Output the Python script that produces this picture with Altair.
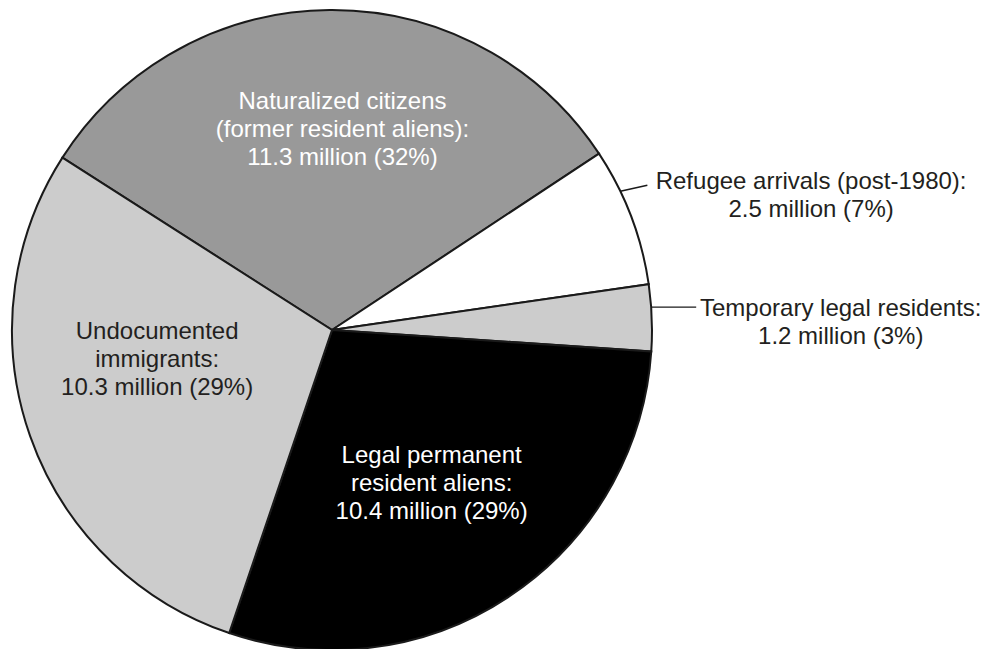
import math
import altair as alt
import pandas as pd

# ---- data ----
categories = ["Naturalized citizens", "Refugee arrivals", "Temporary legal residents",
              "Legal permanent resident aliens", "Undocumented immigrants"]
values = [11.3, 2.5, 1.2, 10.4, 10.3]          # millions
percents = [32, 7, 3, 29, 29]
name_lines = ["Naturalized citizens\n(former resident aliens):",
              "Refugee arrivals (post-1980):",
              "Temporary legal residents:",
              "Legal permanent\nresident aliens:",
              "Undocumented\nimmigrants:"]

colors = ["#999999", "#ffffff", "#cccccc", "#000000", "#cccccc"]

df = pd.DataFrame({
    "category": categories,
    "value": values,
    "pct": percents,
    "name": name_lines,
    "order": list(range(len(categories))),
})
df["label"] = (df["name"] + "\n" + df["value"].map(lambda v: f"{v:.1f}")
               + " million (" + df["pct"].astype(str) + "%)")
TOTAL = float(sum(values))

# ---- layout ----
CX, CY, R = 332, 330, 320
START = math.radians(-57.4)
FONT = "Liberation Sans"
FS = 24
LH = 28

theta_scale = alt.Scale(domain=[0, TOTAL], range=[START, START + 2 * math.pi],
                        zero=True, nice=False)

base = (alt.Chart(df)
        .transform_window(cum="sum(value)", sort=[alt.SortField("order")], frame=[None, 0])
        .transform_joinaggregate(total="sum(value)")
        .transform_calculate(start="datum.cum - datum.value")
        .transform_calculate(end="datum.cum")
        .transform_calculate(mid="datum.cum - datum.value / 2"))

pie = base.mark_arc(outerRadius=R, stroke="#1a1a1a", strokeWidth=2).encode(
    theta=alt.Theta("start:Q", scale=theta_scale, stack=False),
    theta2="end:Q",
    color=alt.Color("category:N", scale=alt.Scale(domain=categories, range=colors), legend=None),
    x=alt.value(CX),
    y=alt.value(CY),
)


def label(cat, radius, dx, dy, color):
    return (base.transform_filter(alt.datum.category == cat)
            .mark_text(radius=radius, dx=dx, dy=dy, align="center", baseline="middle",
                       fontSize=FS, font=FONT, lineHeight=LH, lineBreak="\n", color=color)
            .encode(theta=alt.Theta("mid:Q", scale=theta_scale, stack=False),
                    text="label:N",
                    x=alt.value(CX), y=alt.value(CY)))


def leader(cat, dang_deg, ddx, ddy):
    return (base.transform_filter(alt.datum.category == cat)
            .transform_calculate(a=f"{START} + 2*PI*datum.mid/datum.total + {math.radians(dang_deg)}")
            .transform_calculate(x1=f"{CX} + {R}*sin(datum.a)")
            .transform_calculate(y1=f"{CY} - {R}*cos(datum.a)")
            .transform_calculate(x2=f"datum.x1 + {ddx}")
            .transform_calculate(y2=f"datum.y1 + {ddy}")
            .mark_rule(color="#1a1a1a", strokeWidth=1.3)
            .encode(x=alt.X("x1:Q", scale=None, axis=None),
                    y=alt.Y("y1:Q", scale=None, axis=None),
                    x2="x2:Q", y2="y2:Q"))


layers = [
    pie,
    label(categories[0], 200, 12, -28, "#ffffff"),
    label(categories[1], 350, 152, -23, "#231f20"),
    label(categories[2], 350, 159, -8, "#231f20"),
    label(categories[3], 185, -3, -28, "#ffffff"),
    label(categories[4], 180, -5, -58, "#231f20"),
    leader(categories[1], -4.85, 27, -6),
    leader(categories[2], -1.9, 45, 0),
]

chart = (alt.layer(*layers)
         .properties(width=994, height=649, autosize="none", padding=0, background="#ffffff")
         .configure_view(stroke=None))

chart.save("out.html", embed_options={"renderer": "svg", "actions": False})
